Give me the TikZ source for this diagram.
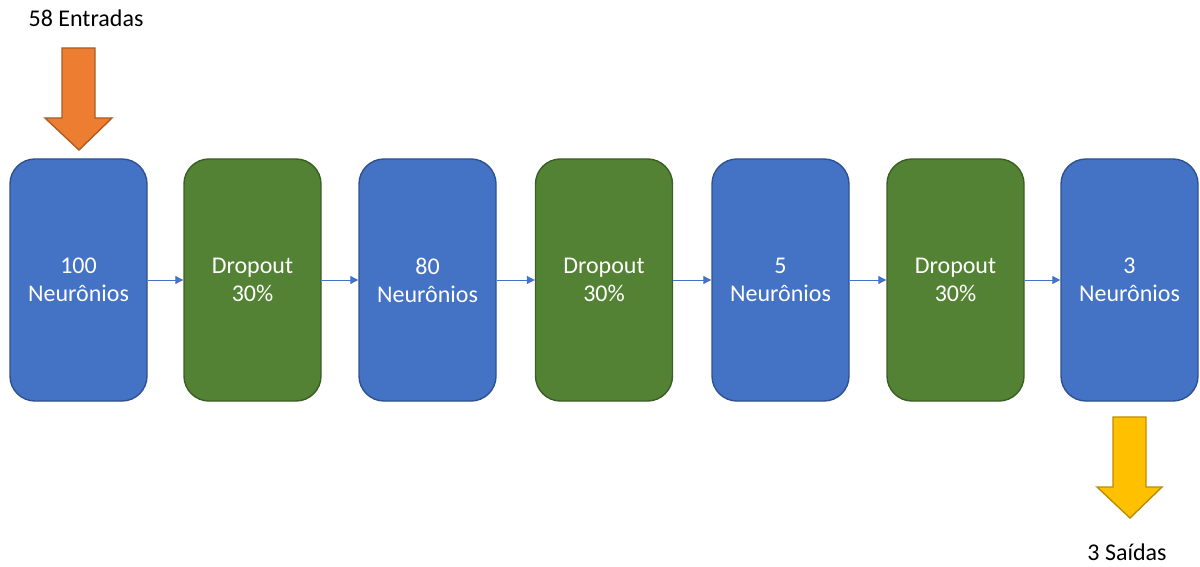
\documentclass[tikz,border=0pt]{standalone}
\usepackage{fontspec}
\setmainfont{Carlito}
\usetikzlibrary{arrows.meta}

\definecolor{layerblue}{HTML}{4472C4}
\definecolor{layerblueline}{HTML}{2F528F}
\definecolor{dropgreen}{HTML}{548235}
\definecolor{dropgreenline}{HTML}{3B5E25}
\definecolor{inorange}{HTML}{ED7D31}
\definecolor{inorangeline}{HTML}{AE5A21}
\definecolor{outyellow}{HTML}{FFC000}
\definecolor{outyellowline}{HTML}{BC8C00}

\tikzset{
  layer/.style={draw, line width=0.7pt, rounded corners=12.5pt, minimum width=68.5pt,
    minimum height=121pt, align=center, text=white,
    font=\fontsize{12pt}{14pt}\selectfont},
  neuro/.style={layer, fill=layerblue, draw=layerblueline},
  drop/.style={layer, fill=dropgreen, draw=dropgreenline},
  conn/.style={-{Triangle[length=4pt,width=4pt]}, layerblue, line width=0.5pt},
  caption/.style={font=\fontsize{12pt}{14pt}\selectfont}
}

\begin{document}
\begin{tikzpicture}[x=0.5pt,y=-0.5pt]
  \useasboundingbox (0,0) rectangle (1200,567);

  % layers
  \node[neuro] (n1) at (78.5,280) {100\\Neurônios};
  \node[drop]  (d1) at (252.5,280) {Dropout\\30\%};
  \node[neuro] (n2) at (427.5,280) {80\\Neurônios};
  \node[drop]  (d2) at (604,280) {Dropout\\30\%};
  \node[neuro] (n3) at (780.5,280) {5\\Neurônios};
  \node[drop]  (d3) at (955.5,280) {Dropout\\30\%};
  \node[neuro] (n4) at (1129.5,280) {3\\Neurônios};

  \foreach \a/\b in {n1/d1,d1/n2,n2/d2,d2/n3,n3/d3,d3/n4}
    \draw[conn] (\a) -- (\b);

  % input and output
  \node[caption] (entrada) at (86,18) {58 Entradas};
  \node[caption] (saida) at (1127,552) {3 Saídas};

  \filldraw[fill=inorange, draw=inorangeline, line width=0.7pt]
    (62,48) -- (95,48) -- (95,118) -- (112,118) -- (79,150) -- (45,118) -- (62,118) -- cycle;
  \filldraw[fill=outyellow, draw=outyellowline, line width=0.7pt]
    (1113,417) -- (1146,417) -- (1146,487) -- (1162,487) -- (1130,518) -- (1097,487) -- (1113,487) -- cycle;
\end{tikzpicture}
\end{document}
